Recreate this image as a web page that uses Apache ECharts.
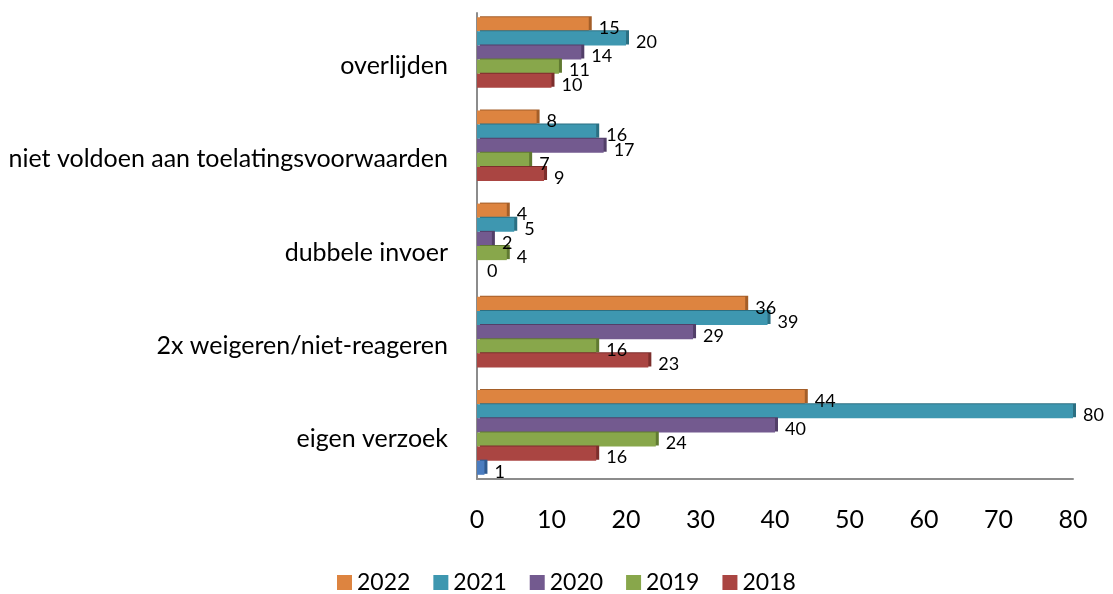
<!DOCTYPE html>
<html lang="nl">
<head>
  <meta charset="utf-8"/>
  <script src="https://cdn.jsdelivr.net/npm/echarts@6/dist/echarts.min.js"></script>
  <style>
    html, body { margin: 0; padding: 0; background: #fff; }
    #chart { width: 1113px; height: 594px; }
  </style>
</head>
<body>
<div id="chart"></div>
<script>
  // categorieen van boven naar beneden
  var categories = ['overlijden', 'niet voldoen aan toelatingsvoorwaarden', 'dubbele invoer', '2x weigeren/niet-reageren', 'eigen verzoek'];
  var years = ['2022', '2021', '2020', '2019', '2018'];
  var v2022 = [15, 8, 4, 36, 44];
  var v2021 = [20, 16, 5, 39, 80];
  var v2020 = [14, 17, 2, 29, 40];
  var v2019 = [11, 7, 4, 16, 24];
  var v2018 = [10, 9, 0, 23, 16];
  // losse blauwe balk zonder legenda
  var vExtra = [null, null, null, null, 1];
  var xTicks = [0, 10, 20, 30, 40, 50, 60, 70, 80];

  var colors = ['#DD8440', '#3E97B0', '#735A8F', '#88A74B', '#AA4542', '#4A7CBF'];
  var sides = ['#A45E28', '#2B6F82', '#523F68', '#607A31', '#7C2E2C', '#2F5A8F'];
  var font = 'Lato';

  function makeSeries(name, data, i) {
    return {
      name: name,
      type: 'bar',
      data: data,
      barCategoryGap: '9%',
      barGap: '0%',
      itemStyle: {
        color: colors[i],
        shadowColor: sides[i],
        shadowOffsetX: 3,
        shadowOffsetY: -1,
        shadowBlur: 0
      },
      label: {
        show: true,
        position: 'right',
        distance: 10,
        offset: [0, 4],
        color: '#000',
        fontFamily: font,
        fontSize: 18
      }
    };
  }

  var myChart = echarts.init(document.getElementById('chart'));
  var option = {
    animation: false,
    grid: {
      left: 477,
      top: 13,
      width: 596,
      height: 466
    },
    legend: {
      data: years,
      top: 566,
      left: 332,
      itemWidth: 15,
      itemHeight: 15,
      itemGap: 23,
      icon: 'rect',
      textStyle: { fontFamily: font, fontSize: 23, color: '#000' }
    },
    xAxis: {
      type: 'value',
      min: 0,
      max: 80,
      interval: 10,
      axisLine: { show: true, lineStyle: { color: '#8c8c8c', width: 2 } },
      axisTick: { show: false },
      splitLine: { show: false },
      axisLabel: {
        margin: 28,
        fontFamily: font,
        fontSize: 25,
        color: '#000',
        formatter: function (v) { return xTicks.indexOf(v) >= 0 ? String(v) : ''; }
      }
    },
    yAxis: {
      type: 'category',
      data: categories,
      inverse: true,
      axisLine: { show: true, lineStyle: { color: '#8c8c8c', width: 2 } },
      axisTick: { show: false },
      axisLabel: {
        margin: 29,
        fontFamily: font,
        fontSize: 25,
        color: '#000',
        verticalAlign: 'top',
        lineHeight: 13
      }
    },
    series: [
      makeSeries('2022', v2022, 0),
      makeSeries('2021', v2021, 1),
      makeSeries('2020', v2020, 2),
      makeSeries('2019', v2019, 3),
      makeSeries('2018', v2018, 4),
      makeSeries('overig', vExtra, 5)
    ]
  };
  myChart.setOption(option);
</script>
</body>
</html>
